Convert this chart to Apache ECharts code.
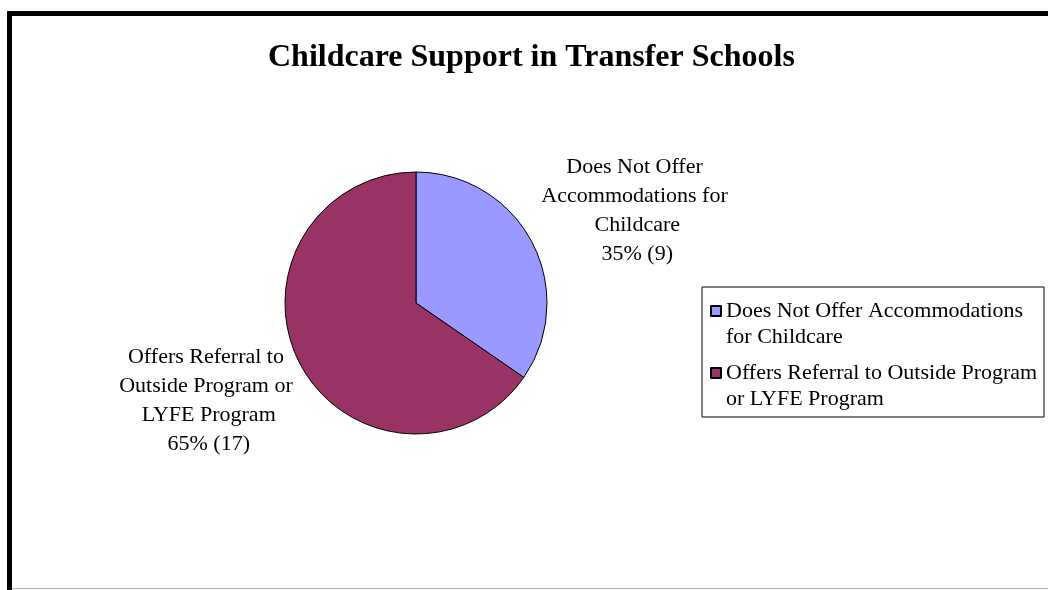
<!DOCTYPE html>
<html>
<head>
<meta charset="utf-8">
<title>Childcare Support in Transfer Schools</title>
<script src="https://cdn.jsdelivr.net/npm/echarts@6/dist/echarts.min.js"></script>
<style>
  html, body { margin: 0; padding: 0; background: #ffffff; }
  #chart { width: 1048px; height: 590px; }
</style>
</head>
<body>
<div id="chart"></div>
<script>
// Survey of transfer schools: how childcare needs are handled
const categories = [
  'Does Not Offer Accommodations for Childcare',
  'Offers Referral to Outside Program or LYFE Program'
];
const schoolCounts = [9, 17];
const sliceColors = ['#9999FF', '#993366'];

const FONT = '"Liberation Serif", "Times New Roman", serif';
const CENTER = [416, 303];
const RADIUS = 131;

const total = schoolCounts.reduce((a, b) => a + b, 0);

// Mid-angle of each slice, measured clockwise from 12 o'clock
const midAngles = [];
let acc = 0;
schoolCounts.forEach(v => {
  const sweep = v / total * 2 * Math.PI;
  midAngles.push(acc + sweep / 2);
  acc += sweep;
});

const chart = echarts.init(document.getElementById('chart'), null, { renderer: 'canvas' });

chart.setOption({
  backgroundColor: '#ffffff',
  animation: false,
  title: {
    text: 'Childcare Support in Transfer Schools',
    left: 268,
    top: 42,
    padding: 0,
    textStyle: {
      fontFamily: FONT,
      fontWeight: 'bold',
      fontSize: 32,
      color: '#000000'
    }
  },
  legend: {
    orient: 'vertical',
    left: 702,
    top: 287,
    padding: [11, 0, 5, 8],
    borderColor: '#000000',
    borderWidth: 1,
    itemWidth: 10,
    itemHeight: 36,
    itemGap: 10,
    // square swatch sitting beside the first line of a wrapped entry
    icon: 'path://M0 0H10V10H0Z M0 36',
    selectedMode: false,
    data: categories,
    textStyle: {
      fontFamily: FONT,
      fontSize: 22,
      lineHeight: 26,
      color: '#000000',
      width: 318,
      overflow: 'break'
    }
  },
  graphic: [
    {
      // heavy frame along the left and top edges
      type: 'polyline',
      silent: true,
      shape: { points: [[9.5, 600], [9.5, 13.5], [1060, 13.5]] },
      style: { stroke: '#000000', lineWidth: 5, fill: null }
    },
    {
      type: 'line',
      silent: true,
      shape: { x1: 12, y1: 588.5, x2: 1048, y2: 588.5 },
      style: { stroke: '#b4b4b4', lineWidth: 1 }
    }
  ],
  series: [
    {
      type: 'pie',
      center: CENTER,
      radius: RADIUS,
      startAngle: 90,
      clockwise: true,
      avoidLabelOverlap: false,
      emphasis: { disabled: true },
      itemStyle: { borderColor: '#000000', borderWidth: 1 },
      label: {
        show: true,
        position: 'outside',
        fontFamily: FONT,
        fontSize: 22,
        lineHeight: 29,
        color: '#000000',
        width: 200,
        overflow: 'break',
        formatter: p => p.name + '\n' + Math.round(p.percent) + '% (' + p.value + ')'
      },
      labelLine: { show: false },
      // labels float beyond the rim along each slice's mid-angle
      labelLayout: params => {
        const a = midAngles[params.dataIndex];
        return {
          x: CENTER[0] + 7 + 242 * Math.sin(a),
          y: CENTER[1] + 3 - 204 * Math.cos(a),
          align: 'center',
          verticalAlign: 'middle'
        };
      },
      data: categories.map((name, i) => ({
        name: name,
        value: schoolCounts[i],
        itemStyle: { color: sliceColors[i] }
      }))
    }
  ]
});
</script>
</body>
</html>
